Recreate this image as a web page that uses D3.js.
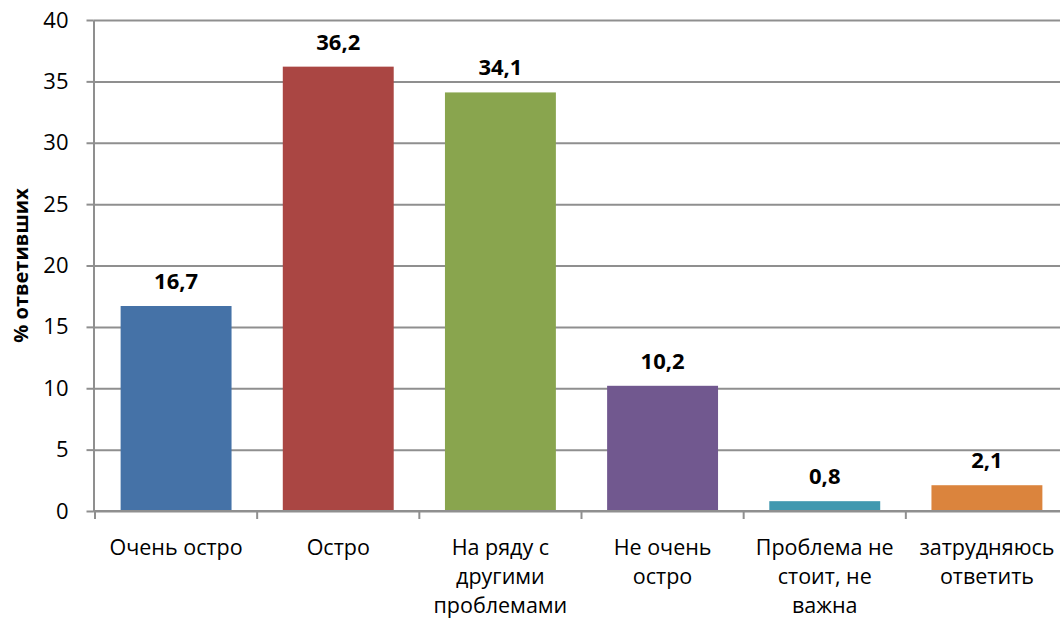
<!DOCTYPE html>
<html>
<head>
<meta charset="utf-8">
<script src="https://cdn.jsdelivr.net/npm/d3@7"></script>
<style>
  body { margin: 0; background: #fff; }
  svg { display: block; font-family: "Open Sans", sans-serif; }
</style>
</head>
<body>
<script>
// chart data
const categories = ['Очень остро', 'Остро', 'На ряду с\nдругими\nпроблемами', 'Не очень\nостро', 'Проблема не\nстоит, не\nважна', 'затрудняюсь\nответить'];
const values = [16.7, 36.2, 34.1, 10.2, 0.8, 2.1];
const barColors = ['#4572A7', '#AA4643', '#89A54E', '#71588F', '#4198AF', '#DB843D'];
const yTicks = [0, 5, 10, 15, 20, 25, 30, 35, 40];
const yTitle = '% ответивших';

class BarChart {
  constructor(opts) {
    this.element = opts.element;
    this.width = opts.width;
    this.height = opts.height;
    this.left = 93.5;
    this.top = 20;
    this.bottom = 511;

    this.svg = d3.select(this.element).append('svg')
      .attr('width', this.width)
      .attr('height', this.height);

    this.scales();
    this.grid();
    this.bars();
    this.axes();
  }

  scales() {
    this.xScale = d3.scaleBand()
      .domain(categories)
      .range([95, 1068])
      .paddingInner(0.316)
      .paddingOuter(0.158);

    this.yScale = d3.scaleLinear()
      .domain([0, 40])
      .range([this.bottom, this.top]);
  }

  grid() {
    // horizontal gridlines, running off the right edge like the original
    const g = this.svg.append('g')
      .attr('transform', `translate(${this.left}, 0)`)
      .call(d3.axisLeft(this.yScale).tickValues(yTicks).tickSize(-(this.width - this.left)).tickFormat(''));
    g.select('.domain').remove();
    g.selectAll('line').attr('stroke', '#8f8f8f').attr('stroke-width', 2);
  }

  bars() {
    const data = categories.map((c, i) => ({cat: c, value: values[i], color: barColors[i]}));

    this.svg.selectAll('rect.bar').data(data).enter().append('rect')
      .attr('class', 'bar')
      .attr('x', d => this.xScale(d.cat))
      .attr('width', this.xScale.bandwidth())
      .attr('y', d => this.yScale(d.value))
      .attr('height', d => this.bottom - this.yScale(d.value))
      .attr('fill', d => d.color);

    this.svg.selectAll('text.val').data(data).enter().append('text')
      .attr('class', 'val')
      .attr('x', d => this.xScale(d.cat) + this.xScale.bandwidth() / 2)
      .attr('y', d => this.yScale(d.value) - 17)
      .attr('text-anchor', 'middle')
      .attr('font-size', 22)
      .attr('font-weight', 'bold')
      .text(d => String(d.value).replace('.', ','));
  }

  axes() {
    // y axis
    const yAxis = this.svg.append('g')
      .attr('transform', `translate(${this.left}, 0)`)
      .call(d3.axisLeft(this.yScale).tickValues(yTicks).tickSizeInner(7).tickSizeOuter(0).tickPadding(18));
    yAxis.select('.domain').attr('stroke', '#8f8f8f').attr('stroke-width', 2);
    yAxis.selectAll('line').attr('stroke', '#8f8f8f').attr('stroke-width', 2);
    yAxis.selectAll('text').attr('font-size', 22).attr('font-family', '"Open Sans", sans-serif').attr('fill', '#000');

    // x axis line
    this.svg.append('line')
      .attr('x1', this.left).attr('x2', this.width)
      .attr('y1', this.bottom).attr('y2', this.bottom)
      .attr('stroke', '#8f8f8f').attr('stroke-width', 2);

    // tick marks between categories
    const step = this.xScale.step();
    const off = (step - this.xScale.bandwidth()) / 2;
    const bounds = categories.map(c => this.xScale(c) - off).concat([this.xScale(categories[5]) + this.xScale.bandwidth() + off]);
    this.svg.selectAll('line.xtick').data(bounds).enter().append('line')
      .attr('class', 'xtick')
      .attr('x1', d => d).attr('x2', d => d)
      .attr('y1', this.bottom).attr('y2', this.bottom + 8)
      .attr('stroke', '#8f8f8f').attr('stroke-width', 2);

    // category labels, multi-line
    const labels = this.svg.selectAll('text.cat').data(categories).enter().append('text')
      .attr('class', 'cat')
      .attr('x', d => this.xScale(d) + this.xScale.bandwidth() / 2)
      .attr('y', 555)
      .attr('text-anchor', 'middle')
      .attr('font-size', 21.5);
    labels.each(function(d) {
      const t = d3.select(this);
      d.split('\n').forEach((line, i) => {
        t.append('tspan')
          .attr('x', t.attr('x'))
          .attr('dy', i === 0 ? 0 : 29)
          .text(line);
      });
    });

    // y axis title
    this.svg.append('text')
      .attr('transform', `translate(28, ${(this.top + this.bottom) / 2}) rotate(-90)`)
      .attr('text-anchor', 'middle')
      .attr('font-size', 20)
      .attr('font-weight', 'bold')
      .text(yTitle);
  }
}

const chart = new BarChart({element: document.querySelector('body'), width: 1060, height: 623});
</script>
</body>
</html>
